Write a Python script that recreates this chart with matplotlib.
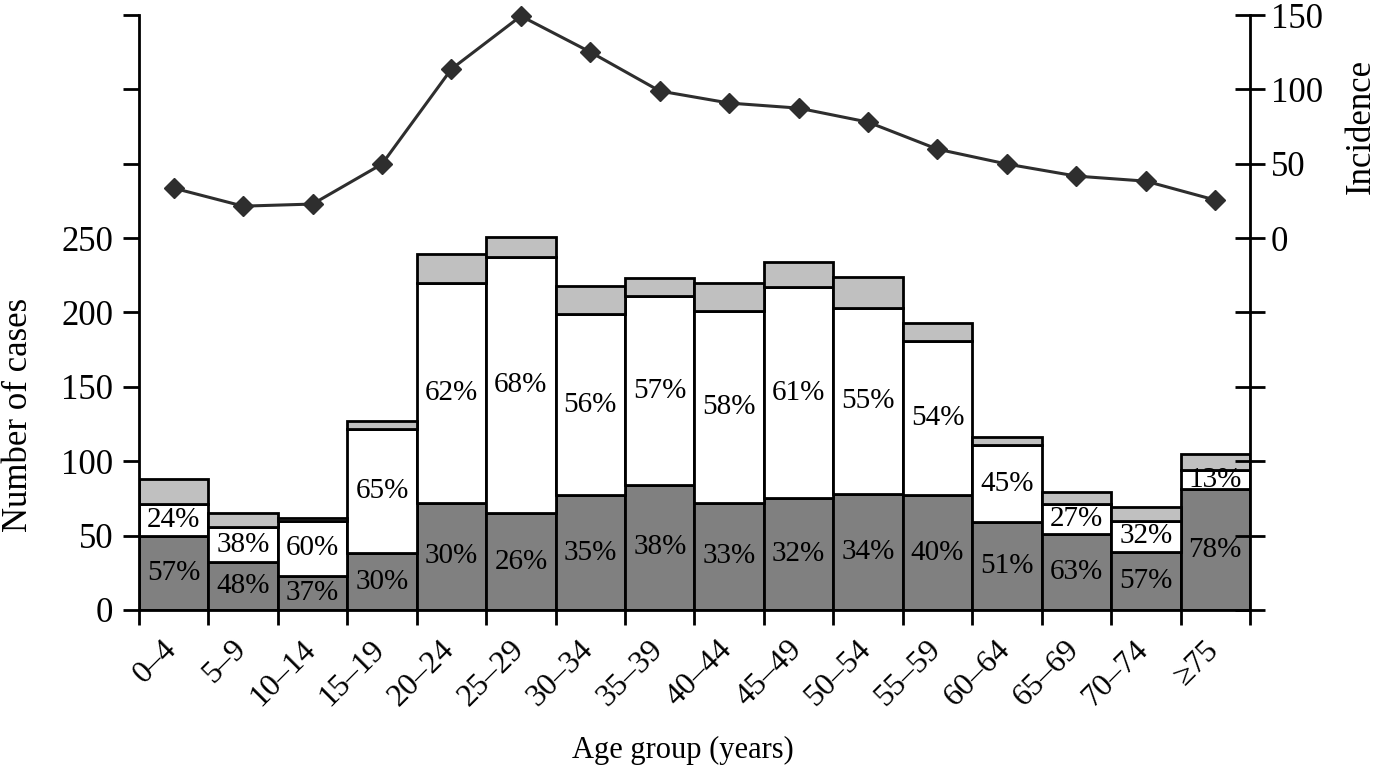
import matplotlib.pyplot as plt
from matplotlib.transforms import ScaledTranslation
import numpy as np

plt.rcParams['font.family'] = ['Liberation Serif', 'DejaVu Serif']

age_groups = ['0–4', '5–9', '10–14', '15–19', '20–24', '25–29', '30–34', '35–39',
              '40–44', '45–49', '50–54', '55–59', '60–64', '65–69', '70–74', '≥75']

# number of cases per segment (bottom dark, middle white, top light grey)
dark_cases = [50, 32, 23, 38, 72, 65, 77, 84, 72, 75, 78, 77, 59, 51, 39, 81]
white_cases = [21, 24, 37, 84, 148, 172, 122, 127, 129, 142, 125, 104, 52, 20, 21, 13]
grey_cases = [17, 9, 2, 5, 19, 14, 19, 12, 19, 17, 21, 12, 5, 8, 9, 11]

dark_pct = ['57%', '48%', '37%', '30%', '30%', '26%', '35%', '38%',
            '33%', '32%', '34%', '40%', '51%', '63%', '57%', '78%']
white_pct = ['24%', '38%', '60%', '65%', '62%', '68%', '56%', '57%',
             '58%', '61%', '55%', '54%', '45%', '27%', '32%', '13%']

incidence = [33.6, 21.5, 22.9, 49.8, 113.7, 149.3, 125.1, 98.9,
             90.8, 87.4, 78.0, 59.8, 49.8, 41.7, 38.3, 25.6]

x = np.arange(len(age_groups))
dark = np.array(dark_cases)
white = np.array(white_cases)
grey = np.array(grey_cases)

fig = plt.figure(figsize=(13.83, 7.66), dpi=100)
ax = fig.add_axes([0.1005, 0.2037, 0.8033, 0.7767])

lw = 2.0
ax.bar(x, dark, width=1.0, color='#808080', edgecolor='black', linewidth=lw)
ax.bar(x, white, width=1.0, bottom=dark, color='white', edgecolor='black', linewidth=lw)
ax.bar(x, grey, width=1.0, bottom=dark + white, color='#c0c0c0', edgecolor='black', linewidth=lw)

for i in range(len(x)):
    ax.text(x[i], dark[i] / 2, dark_pct[i], ha='center', va='center', fontsize=21)
    ax.text(x[i], dark[i] + white[i] / 2, white_pct[i], ha='center', va='center', fontsize=21)

ax.set_xlim(-0.5, len(x) - 0.5)
ax.set_ylim(0, 400)
ax.set_yticks(np.arange(0, 401, 50))
ax.set_yticklabels([str(v) if v <= 250 else '' for v in range(0, 401, 50)])
ax.tick_params(axis='y', direction='out', length=11.5, width=lw, labelsize=25, pad=7)

ax.set_xticks(x)
ax.set_xticklabels(age_groups, rotation=45, ha='right', fontsize=23)
ax.set_xticks(np.arange(-0.5, len(x), 1.0), minor=True)
ax.tick_params(axis='x', which='major', length=0, pad=18)
ax.tick_params(axis='x', which='minor', direction='out', length=11, width=lw)
offset = ScaledTranslation(9 / 100, 0, fig.dpi_scale_trans)
for lab in ax.get_xticklabels():
    lab.set_transform(lab.get_transform() + offset)

for side in ['top', 'right']:
    ax.spines[side].set_visible(False)
for side in ['left', 'bottom']:
    ax.spines[side].set_linewidth(lw)

ax.set_ylabel('Number of cases', fontsize=25)
ax.yaxis.set_label_coords(-0.094, 0.328)
ax.set_xlabel('Age group (years)', fontsize=22)
ax.xaxis.set_label_coords(0.49, -0.212)

ax2 = ax.twinx()
ax2.plot(x, incidence, color='#2e2e2e', linewidth=2.2, marker='D', markersize=10, clip_on=False)
ax2.set_ylim(-250, 150)
ax2.set_yticks(np.arange(-250, 151, 50))
ax2.set_yticklabels([str(v) if v >= 0 else '' for v in range(-250, 151, 50)])
ax2.tick_params(axis='y', direction='inout', length=22, width=lw, labelsize=25, pad=4)
for side in ['top', 'left', 'bottom']:
    ax2.spines[side].set_visible(False)
ax2.spines['right'].set_linewidth(lw)
ax2.set_ylabel('Incidence', fontsize=25)
ax2.yaxis.set_label_coords(1.0855, 0.8134)

fig.savefig('out.png', dpi=100)
